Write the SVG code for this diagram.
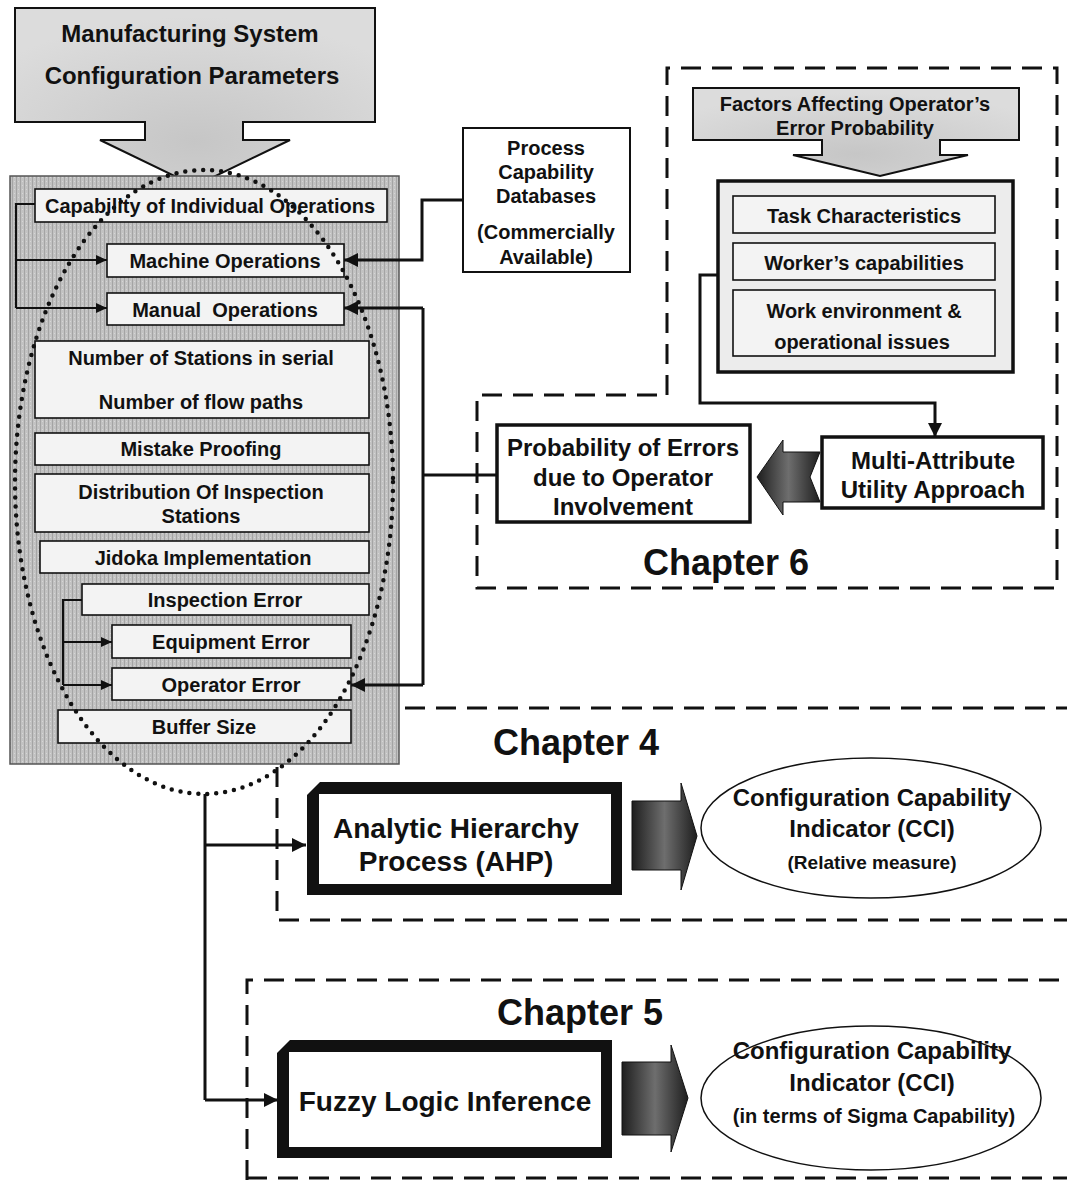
<svg xmlns="http://www.w3.org/2000/svg" width="1067" height="1182" viewBox="0 0 1067 1182">
  <style>
    text { font-family: "Liberation Sans", Arial, sans-serif; font-weight: bold; fill: #111; text-anchor: middle; dominant-baseline: central; }
    .item { fill: #f3f3f3; stroke: #111; stroke-width: 1.6; }
    .box { fill: #fff; stroke: #111; stroke-width: 2; }
    .thick { fill: #fff; stroke: #111; stroke-width: 3.5; }
    .wire { fill: none; stroke: #111; stroke-width: 3; }
    .thin { fill: none; stroke: #111; stroke-width: 2.2; }
    .dash { fill: none; stroke: #111; stroke-width: 3; stroke-dasharray: 20 11; }
    .t20 { font-size: 20px; }
    .t24 { font-size: 24px; }
    .t28 { font-size: 28px; }
    .ch { font-size: 36px; }
  </style>
  <defs>
    <pattern id="halftone" width="4" height="4" patternUnits="userSpaceOnUse">
      <rect width="4" height="4" fill="#c2c2c2"/>
      <rect width="1" height="4" fill="#a4a4a4"/>
      <rect x="2" y="1" width="1" height="1" fill="#d6d6d6"/>
    </pattern>
    <radialGradient id="lightGrey" cx="0.5" cy="0.75" r="0.7">
      <stop offset="0" stop-color="#c6c6c6"/>
      <stop offset="1" stop-color="#dcdcdc"/>
    </radialGradient>
    <linearGradient id="blockDark" x1="0" y1="0" x2="1" y2="0">
      <stop offset="0" stop-color="#1e1e1e"/>
      <stop offset="0.5" stop-color="#6e6e6e"/>
      <stop offset="1" stop-color="#1e1e1e"/>
    </linearGradient>
    <marker id="arr" markerUnits="userSpaceOnUse" markerWidth="16" markerHeight="14" refX="14" refY="7" orient="auto">
      <path d="M0,0 L14,7 L0,14 z" fill="#111"/>
    </marker>
    <marker id="arrS" markerUnits="userSpaceOnUse" markerWidth="12" markerHeight="10" refX="11" refY="5" orient="auto">
      <path d="M0,0 L11,5 L0,10 z" fill="#111"/>
    </marker>
  </defs>

  <rect width="1067" height="1182" fill="#fff"/>

  <!-- chapter regions -->
  <g id="chapters">
    <path class="dash" d="M667,395 V68 H1057 V588 H477 V395 H667"/>
    <path class="dash" d="M374,708 H1067 M277,767 V920 H1067"/>
    <path class="dash" d="M247,1180 V980 H1067 M247,1178 H1067"/>
    <text class="ch" x="726" y="562">Chapter 6</text>
    <text class="ch" x="576" y="742">Chapter 4</text>
    <text class="ch" x="580" y="1012">Chapter 5</text>
  </g>

  <!-- configuration parameters input -->
  <g id="config-params">
    <path d="M15,8 H375 V122 H243 V140 H290 L195,186 L100,140 H145 V122 H15 Z" fill="url(#lightGrey)" stroke="#111" stroke-width="2"/>
    <text class="t24" x="190" y="33">Manufacturing System</text>
    <text class="t24" x="192" y="75">Configuration Parameters</text>
  </g>

  <!-- parameter panel -->
  <g id="panel">
    <rect x="10" y="176" width="389" height="588" fill="url(#halftone)" stroke="#555" stroke-width="1.5"/>
  </g>

  <g id="capability-ops">
    <rect class="item" x="35" y="189" width="352" height="33"/>
    <text class="t20" x="210" y="206">Capability of Individual Operations</text>
  </g>
  <g id="machine-ops">
    <rect class="item" x="107" y="244" width="237" height="33"/>
    <text class="t20" x="225" y="261">Machine Operations</text>
  </g>
  <g id="manual-ops">
    <rect class="item" x="107" y="293" width="237" height="32"/>
    <text class="t20" x="225" y="310" style="white-space:pre">Manual  Operations</text>
  </g>
  <g id="stations">
    <rect class="item" x="35" y="341" width="334" height="77"/>
    <text class="t20" x="201" y="358">Number of Stations in serial</text>
    <text class="t20" x="201" y="402">Number of flow paths</text>
  </g>
  <g id="mistake-proofing">
    <rect class="item" x="35" y="433" width="334" height="32"/>
    <text class="t20" x="201" y="449">Mistake Proofing</text>
  </g>
  <g id="inspection-distribution">
    <rect class="item" x="35" y="474" width="334" height="58"/>
    <text class="t20" x="201" y="492">Distribution Of Inspection</text>
    <text class="t20" x="201" y="516">Stations</text>
  </g>
  <g id="jidoka">
    <rect class="item" x="40" y="541" width="329" height="32"/>
    <text class="t20" x="203" y="558">Jidoka Implementation</text>
  </g>
  <g id="inspection-error">
    <rect class="item" x="82" y="584" width="287" height="31"/>
    <text class="t20" x="225" y="600">Inspection Error</text>
  </g>
  <g id="equipment-error">
    <rect class="item" x="112" y="625" width="239" height="33"/>
    <text class="t20" x="231" y="642">Equipment Error</text>
  </g>
  <g id="operator-error">
    <rect class="item" x="112" y="668" width="239" height="32"/>
    <text class="t20" x="231" y="685">Operator Error</text>
  </g>
  <g id="buffer-size">
    <rect class="item" x="58" y="710" width="293" height="33"/>
    <text class="t20" x="204" y="727">Buffer Size</text>
  </g>

  <!-- dotted grouping of the parameters -->
  <ellipse cx="204" cy="482" rx="189" ry="312" fill="none" stroke="#111" stroke-width="4.5" stroke-linecap="round" stroke-dasharray="0 9"/>

  <g id="process-db">
    <rect class="box" x="463" y="128" width="167" height="144"/>
    <text class="t20" x="546" y="148">Process</text>
    <text class="t20" x="546" y="172">Capability</text>
    <text class="t20" x="546" y="196">Databases</text>
    <text class="t20" x="546" y="232">(Commercially</text>
    <text class="t20" x="546" y="257">Available)</text>
  </g>

  <g id="factors">
    <path d="M693,88 H1019 V140 H940 V155 H968 L880,176 L793,155 H822 V140 H693 Z" fill="url(#lightGrey)" stroke="#111" stroke-width="2"/>
    <text class="t20" x="855" y="104">Factors Affecting Operator’s</text>
    <text class="t20" x="855" y="128">Error Probability</text>
  </g>

  <g id="factor-list">
    <rect x="718" y="181" width="295" height="191" fill="#ececec" stroke="#111" stroke-width="3.5"/>
    <rect class="item" x="733" y="196" width="262" height="37" fill="#e6e6e6"/>
    <text class="t20" x="864" y="216">Task Characteristics</text>
    <rect class="item" x="733" y="243" width="262" height="37" fill="#e6e6e6"/>
    <text class="t20" x="864" y="263">Worker’s capabilities</text>
    <rect class="item" x="733" y="290" width="262" height="66" fill="#e6e6e6"/>
    <text class="t20" x="864" y="311">Work environment &amp;</text>
    <text class="t20" x="862" y="342">operational issues</text>
  </g>

  <g id="mau">
    <rect class="thick" x="822" y="437" width="221" height="71"/>
    <text class="t24" x="933" y="460">Multi-Attribute</text>
    <text class="t24" x="933" y="489">Utility Approach</text>
  </g>

  <g id="error-probability">
    <rect class="thick" x="497" y="425" width="253" height="97"/>
    <text class="t24" x="623" y="447">Probability of Errors</text>
    <text class="t24" x="623" y="477">due to Operator</text>
    <text class="t24" x="623" y="506">Involvement</text>
  </g>

  <g id="ahp">
    <path d="M320,782 H622 V895 H307 V795 Z" fill="#111"/>
    <rect x="319" y="794" width="292" height="90" fill="#fff"/>
    <text class="t28" x="456" y="828">Analytic Hierarchy</text>
    <text class="t28" x="456" y="861">Process (AHP)</text>
  </g>

  <g id="fuzzy">
    <path d="M290,1040 H612 V1158 H277 V1053 Z" fill="#111"/>
    <rect x="289" y="1052" width="312" height="95" fill="#fff"/>
    <text class="t28" x="445" y="1101">Fuzzy Logic Inference</text>
  </g>

  <g id="cci-relative">
    <ellipse cx="871" cy="828" rx="170" ry="70" fill="#fff" stroke="#111" stroke-width="1.5"/>
    <text class="t24" x="872" y="797">Configuration Capability</text>
    <text class="t24" x="872" y="828">Indicator (CCI)</text>
    <text x="872" y="862" style="font-size:19px">(Relative measure)</text>
  </g>

  <g id="cci-sigma">
    <ellipse cx="871" cy="1098" rx="170" ry="72" fill="#fff" stroke="#111" stroke-width="1.5"/>
    <text class="t24" x="872" y="1050">Configuration Capability</text>
    <text class="t24" x="872" y="1082">Indicator (CCI)</text>
    <text class="t20" x="874" y="1116">(in terms of Sigma Capability)</text>
  </g>

  <!-- connectors -->
  <g id="connectors">
    <path class="thin" d="M35,204 H16 V308"/>
    <path class="thin" d="M16,260 H107" marker-end="url(#arrS)"/>
    <path class="thin" d="M16,308 H107" marker-end="url(#arrS)"/>

    <path class="thin" d="M82,600 H63 V685"/>
    <path class="thin" d="M63,642 H112" marker-end="url(#arrS)"/>
    <path class="thin" d="M63,685 H112" marker-end="url(#arrS)"/>

    <path class="wire" d="M463,200 H422 V260 H344" marker-end="url(#arr)"/>
    <path class="wire" d="M497,475 H423"/>
    <path class="wire" d="M423,308 V685"/>
    <path class="wire" d="M423,308 H344" marker-end="url(#arr)"/>
    <path class="wire" d="M423,685 H351" marker-end="url(#arr)"/>

    <path class="wire" d="M718,275 H700 V403 H935 V437" marker-end="url(#arr)"/>

    <path class="wire" d="M205,794 V1100"/>
    <path class="wire" d="M205,845 H306" marker-end="url(#arr)"/>
    <path class="wire" d="M205,1100 H278" marker-end="url(#arr)"/>

    <!-- block arrows -->
    <path d="M820,452 L810,477 L820,502 H783 V515 L757,477 L783,440 V452 Z" fill="url(#blockDark)" stroke="#111" stroke-width="1"/>
    <path d="M632,801 H681 V783 L697,836 L681,890 V870 H632 Z" fill="url(#blockDark)" stroke="#111" stroke-width="1"/>
    <path d="M622,1062 H671 V1045 L688,1098 L671,1152 V1135 H622 Z" fill="url(#blockDark)" stroke="#111" stroke-width="1"/>
  </g>
</svg>
